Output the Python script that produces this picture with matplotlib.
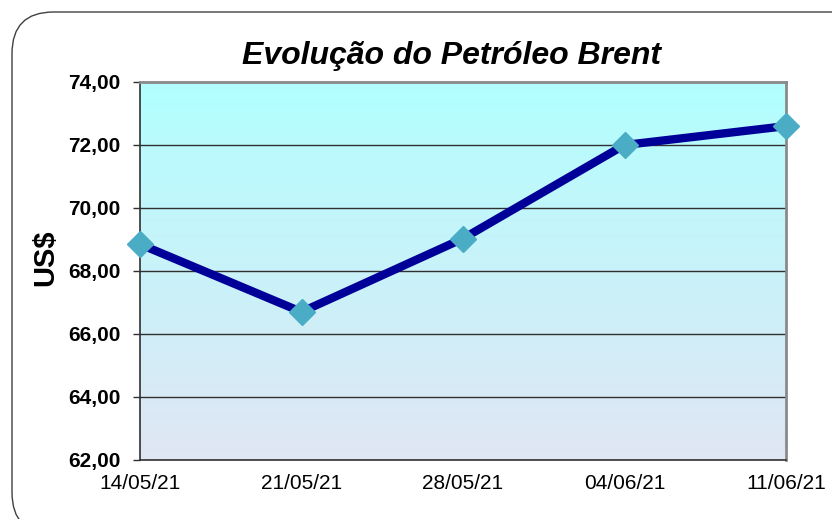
import matplotlib
matplotlib.use("Agg")
import matplotlib.pyplot as plt
import numpy as np
from matplotlib.patches import FancyBboxPatch
from matplotlib.colors import LinearSegmentedColormap

dates = ["14/05/21", "21/05/21", "28/05/21", "04/06/21", "11/06/21"]
prices = [68.85, 66.70, 69.03, 72.00, 72.60]
yticks = [62, 64, 66, 68, 70, 72, 74]
ytick_labels = ["62,00", "64,00", "66,00", "68,00", "70,00", "72,00", "74,00"]

plt.rcParams['font.family'] = ['Liberation Sans', 'DejaVu Sans']

W, H = 832, 519
fig = plt.figure(figsize=(W / 100, H / 100), dpi=100)

# rounded frame
frame = FancyBboxPatch((12 / W, -15 / H), (W + 30) / W, (H + 3) / H,
                       boxstyle="round,pad=0,rounding_size=0.05",
                       transform=fig.transFigure, facecolor="white",
                       edgecolor="#404040", linewidth=1.0, zorder=-10,
                       mutation_aspect=W / H)
fig.patches.append(frame)

left, right, top, bottom = 140, 786, 82, 460
ax = fig.add_axes([left / W, 1 - bottom / H, (right - left) / W, (bottom - top) / H])
ax.set_zorder(5)
ax.set_facecolor("none")

x = np.arange(len(dates))
ax.set_xlim(0, len(dates) - 1)
ax.set_ylim(62, 74)

cmap = LinearSegmentedColormap.from_list("g", ["#E0E6F4", "#B2FFFF"])
grad = np.linspace(0, 1, 256).reshape(-1, 1)
ax.imshow(grad, aspect="auto", cmap=cmap, origin="lower",
          extent=[0, len(dates) - 1, 62, 74], zorder=0)

for yv in yticks[1:-1]:
    ax.axhline(yv, color="#303030", linewidth=1.0, zorder=1)

ax.plot(x, prices, color="#000099", linewidth=6, zorder=3, solid_capstyle="butt")
ax.plot(x, prices, linestyle="none", marker="D", markersize=13,
        markerfacecolor="#4BACC6", markeredgecolor="#4BACC6", zorder=4, clip_on=False)

ax.set_yticks(yticks)
ax.set_yticklabels(ytick_labels, fontsize=15, fontweight="bold")
ax.set_xticks(x)
ax.set_xticklabels(dates, fontsize=15)
ax.tick_params(axis="x", length=0, pad=10)
ax.tick_params(axis="y", length=5, width=1, color="#303030", pad=9)

for s in ["left", "bottom"]:
    ax.spines[s].set_color("#303030")
    ax.spines[s].set_linewidth(1.2)
for s in ["top", "right"]:
    ax.spines[s].set_color("#8A8A8A")
    ax.spines[s].set_linewidth(2.0)

fig.text(45 / W, 1 - 258 / H, "US$", rotation=90, fontsize=21, fontweight="bold",
         ha="center", va="center")
fig.text(452 / W, 1 - 56 / H, "Evolução do Petróleo Brent", fontsize=23,
         fontweight="bold", fontstyle="italic", ha="center", va="center")

fig.savefig("out.png", dpi=100)
